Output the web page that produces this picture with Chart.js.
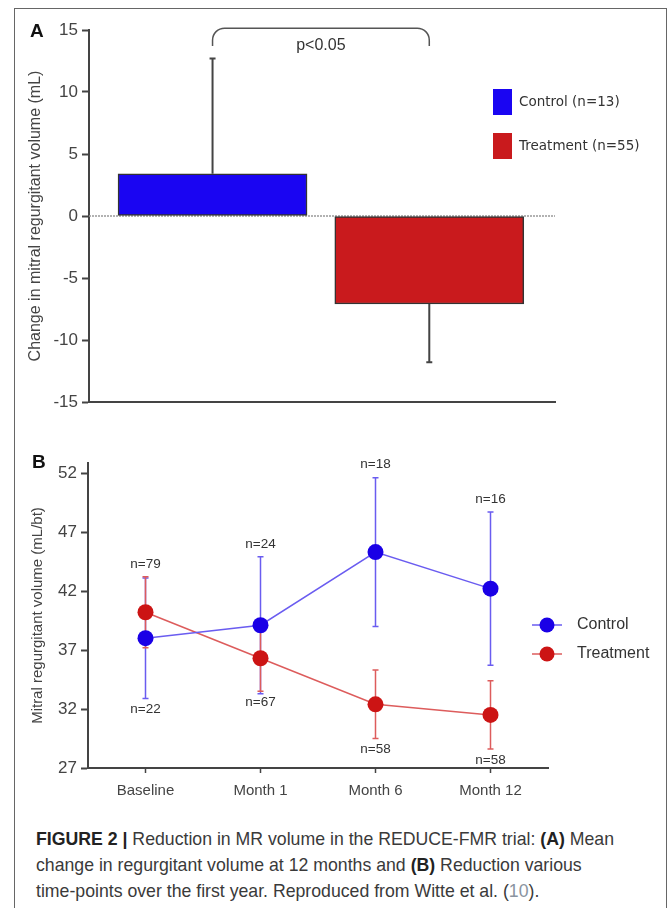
<!DOCTYPE html>
<html>
<head>
<meta charset="utf-8">
<script src="https://cdn.jsdelivr.net/npm/chart.js"></script>
<style>
  body { margin: 0; background: #fff; width: 669px; height: 908px; position: relative; overflow: hidden; }
  #frame { position: absolute; left: 14px; top: 8px; width: 651px; height: 910px;
           border-left: 1px solid #666; border-top: 1px solid #666; border-right: 1px solid #666; }
  #boxA { position: absolute; left: 15px; top: 9px; width: 651px; height: 425px; }
  #boxB { position: absolute; left: 15px; top: 440px; width: 651px; height: 360px; }
  #caption { position: absolute; left: 36px; top: 826px; width: 628px;
             font-family: "Liberation Sans", Arial, sans-serif; font-size: 17.7px; line-height: 26px; color: #3a3a3a; }
  #caption b { color: #222; }
  #caption .ref { color: #8a94a0; }
</style>
</head>
<body>
<div id="frame"></div>
<div id="boxA"><canvas id="chartA"></canvas></div>
<div id="boxB"><canvas id="chartB"></canvas></div>
<div id="caption"><b>FIGURE 2 |</b> Reduction in MR volume in the REDUCE-FMR trial: <b>(A)</b> Mean<br>change in regurgitant volume at 12 months and <b>(B)</b> Reduction various<br>time-points over the first year. Reproduced from Witte et al. (<span class="ref">10</span>).</div>
<script>
// panel A: change in MR volume at 12 months
const groupsA = ['Control (n=13)', 'Treatment (n=55)']
const changeA = [3.4, -7.1]
const errA = [9.3, 4.7]
const colorsA = ['#1a05f2', '#c91a1d']
const ticksA = [-15, -10, -5, 0, 5, 10, 15]
const pText = 'p<0.05'

// panel B: regurgitant volume over time
const visits = ['Baseline', 'Month 1', 'Month 6', 'Month 12']
const controlMean = [38.0, 39.1, 45.3, 42.2]
const controlErr = [5.1, 5.8, 6.3, 6.5]
const controlN = [22, 24, 18, 16]
const treatMean = [40.2, 36.3, 32.4, 31.5]
const treatErr = [3.0, 2.8, 2.9, 2.9]
const treatN = [79, 67, 58, 58]
const ticksB = [27, 32, 37, 42, 47, 52]

Chart.defaults.font.family = '"Liberation Sans", Arial, sans-serif'
Chart.defaults.color = '#333'
Chart.defaults.animation = false

const axisGrey = '#444'

const panelAPlugin = {
  id: 'panelA',
  beforeDatasetsDraw: (chart) => {
    const {ctx, chartArea} = chart
    const y0 = chart.scales.y.getPixelForValue(0)
    ctx.save()
    ctx.strokeStyle = '#999'
    ctx.lineWidth = 1.5
    ctx.setLineDash([2, 1])
    ctx.beginPath()
    ctx.moveTo(chartArea.left, y0)
    ctx.lineTo(chartArea.right, y0)
    ctx.stroke()
    ctx.restore()
  },
  afterDatasetsDraw: (chart) => {
    const {ctx} = chart
    const xs = chart.scales.x, ys = chart.scales.y
    ctx.save()
    // error bars, one direction
    ctx.strokeStyle = axisGrey
    ctx.lineWidth = 2
    changeA.forEach((v, i) => {
      const x = xs.getPixelForValue(i)
      const yEnd = ys.getPixelForValue(v + Math.sign(v) * errA[i])
      ctx.beginPath()
      ctx.moveTo(x, ys.getPixelForValue(v))
      ctx.lineTo(x, yEnd)
      ctx.moveTo(x - 3, yEnd)
      ctx.lineTo(x + 3, yEnd)
      ctx.stroke()
    })
    // significance bracket
    const xl = xs.getPixelForValue(0), xr = xs.getPixelForValue(1)
    const yb = ys.getPixelForValue(13.7), yt = ys.getPixelForValue(15.15)
    const r = 12
    ctx.strokeStyle = '#555'
    ctx.lineWidth = 1.5
    ctx.beginPath()
    ctx.moveTo(xl, yb)
    ctx.arcTo(xl, yt, xl + r, yt, r)
    ctx.lineTo(xr - r, yt)
    ctx.arcTo(xr, yt, xr, yb, r)
    ctx.lineTo(xr, yb)
    ctx.stroke()
    ctx.fillStyle = '#333'
    ctx.font = '16px "Liberation Sans", Arial, sans-serif'
    ctx.textAlign = 'center'
    ctx.textBaseline = 'middle'
    ctx.fillText(pText, (xl + xr) / 2, yt + 17)
    // legend
    ctx.textAlign = 'left'
    ctx.font = '13.5px "DejaVu Sans", sans-serif'
    groupsA.forEach((g, i) => {
      const top = 80 + i * 44
      ctx.fillStyle = colorsA[i]
      ctx.fillRect(478, top, 19, 26)
      ctx.fillStyle = '#333'
      ctx.fillText(g, 504, top + 13)
    })
    // panel letter
    ctx.fillStyle = '#111'
    ctx.font = 'bold 19px "Liberation Sans", Arial, sans-serif'
    ctx.fillText('A', 15, 23)
    ctx.restore()
  }
}

new Chart('chartA', {
  type: 'bar',
  data: {
    labels: groupsA,
    datasets: [{
      data: changeA.map((v, i) => ({x: i, y: v})),
      backgroundColor: colorsA,
      borderColor: '#333',
      borderWidth: 1.5,
      borderSkipped: false,
      barThickness: 189,
      grouped: false
    }]
  },
  options: {
    responsive: true,
    maintainAspectRatio: false,
    layout: {padding: {top: 21, right: 111, bottom: 32, left: 0}},
    scales: {
      x: {
        type: 'linear', min: -0.57, max: 1.58, offset: false,
        ticks: {display: false},
        grid: {display: false},
        border: {color: axisGrey, width: 2},
        afterFit: (s) => { s.height = 0 }
      },
      y: {
        min: -15, max: 15,
        afterBuildTicks: (s) => { s.ticks = ticksA.map(v => ({value: v})) },
        ticks: {font: {size: 17}, color: '#444', padding: 4},
        grid: {drawOnChartArea: false, tickLength: 7, tickColor: axisGrey, tickWidth: 2},
        border: {color: axisGrey, width: 2},
        title: {display: true, text: 'Change in mitral regurgitant volume (mL)', font: {size: 16}, color: '#444', padding: {top: 11, bottom: 0}},
        afterFit: (s) => { s.width = 74 }
      }
    },
    plugins: {legend: {display: false}, tooltip: {enabled: false}}
  },
  plugins: [panelAPlugin]
})

const controlColor = '#1a00e6', controlLine = '#6a5cf0'
const treatColor = '#cc1414', treatLine = '#dd5c5c'

const panelBPlugin = {
  id: 'panelB',
  beforeDatasetsDraw: (chart) => {
    const {ctx} = chart
    const xs = chart.scales.x, ys = chart.scales.y
    ctx.save()
    ctx.lineWidth = 1.5
    const series = [[controlMean, controlErr, controlLine], [treatMean, treatErr, treatLine]]
    series.forEach(([m, e, c]) => {
      ctx.strokeStyle = c
      m.forEach((v, i) => {
        const x = xs.getPixelForValue(i)
        const yt = ys.getPixelForValue(v + e[i]), yb = ys.getPixelForValue(v - e[i])
        ctx.beginPath()
        ctx.moveTo(x, yt); ctx.lineTo(x, yb)
        ctx.moveTo(x - 3, yt); ctx.lineTo(x + 3, yt)
        ctx.moveTo(x - 3, yb); ctx.lineTo(x + 3, yb)
        ctx.stroke()
      })
    })
    ctx.restore()
  },
  afterDraw: (chart) => {
    const {ctx} = chart
    const xs = chart.scales.x, ys = chart.scales.y
    ctx.save()
    // n labels: higher error bar gets its n on top, other below
    ctx.fillStyle = '#333'
    ctx.font = '13.5px "Liberation Sans", Arial, sans-serif'
    ctx.textAlign = 'center'
    ctx.textBaseline = 'middle'
    visits.forEach((_, i) => {
      const x = xs.getPixelForValue(i)
      const cUp = controlMean[i] + controlErr[i], tUp = treatMean[i] + treatErr[i]
      let topN, botN, topV, botV
      if (tUp > cUp) {
        topN = treatN[i]; topV = tUp; botN = controlN[i]; botV = controlMean[i] - controlErr[i]
      } else {
        topN = controlN[i]; topV = cUp; botN = treatN[i]; botV = treatMean[i] - treatErr[i]
      }
      ctx.fillText('n=' + topN, x, ys.getPixelForValue(topV) - 13)
      ctx.fillText('n=' + botN, x, ys.getPixelForValue(botV) + 11)
    })
    // legend
    ctx.textAlign = 'left'
    ctx.font = '16px "Liberation Sans", Arial, sans-serif'
    const items = [['Control', controlColor, controlLine], ['Treatment', treatColor, treatLine]]
    items.forEach(([t, mc, lc], i) => {
      const y = 185 + i * 29
      ctx.strokeStyle = lc
      ctx.lineWidth = 1.5
      ctx.beginPath()
      ctx.moveTo(517, y); ctx.lineTo(547, y)
      ctx.stroke()
      ctx.fillStyle = mc
      ctx.beginPath()
      ctx.arc(532, y, 7.5, 0, Math.PI * 2)
      ctx.fill()
      ctx.fillStyle = '#333'
      ctx.fillText(t, 562, y)
    })
    ctx.fillStyle = '#111'
    ctx.font = 'bold 19px "Liberation Sans", Arial, sans-serif'
    ctx.fillText('B', 17, 23)
    ctx.restore()
  }
}

new Chart('chartB', {
  type: 'line',
  data: {
    labels: visits,
    datasets: [
      {label: 'Control', data: controlMean, borderColor: controlLine, borderWidth: 1.5,
       pointRadius: 8, pointBackgroundColor: controlColor, pointBorderWidth: 0},
      {label: 'Treatment', data: treatMean, borderColor: treatLine, borderWidth: 1.5,
       pointRadius: 8, pointBackgroundColor: treatColor, pointBorderWidth: 0}
    ]
  },
  options: {
    responsive: true,
    maintainAspectRatio: false,
    layout: {padding: {top: 23, right: 118, bottom: 0, left: 0}},
    scales: {
      x: {
        offset: true,
        ticks: {font: {size: 15}, color: '#444', padding: 9},
        grid: {drawOnChartArea: false, tickLength: 5, tickColor: axisGrey, tickWidth: 1.5},
        border: {color: axisGrey, width: 2},
        afterFit: (s) => { s.height = 32 }
      },
      y: {
        min: 27, max: 52.85,
        afterBuildTicks: (s) => { s.ticks = ticksB.map(v => ({value: v})) },
        ticks: {font: {size: 17}, color: '#444', padding: 4},
        grid: {drawOnChartArea: false, tickLength: 7, tickColor: axisGrey, tickWidth: 2},
        border: {color: axisGrey, width: 2},
        title: {display: true, text: 'Mitral regurgitant volume (mL/bt)', font: {size: 15}, color: '#444', padding: {top: 14, bottom: 0}},
        afterFit: (s) => { s.width = 73 }
      }
    },
    plugins: {legend: {display: false}, tooltip: {enabled: false}}
  },
  plugins: [panelBPlugin]
})
</script>
</body>
</html>
